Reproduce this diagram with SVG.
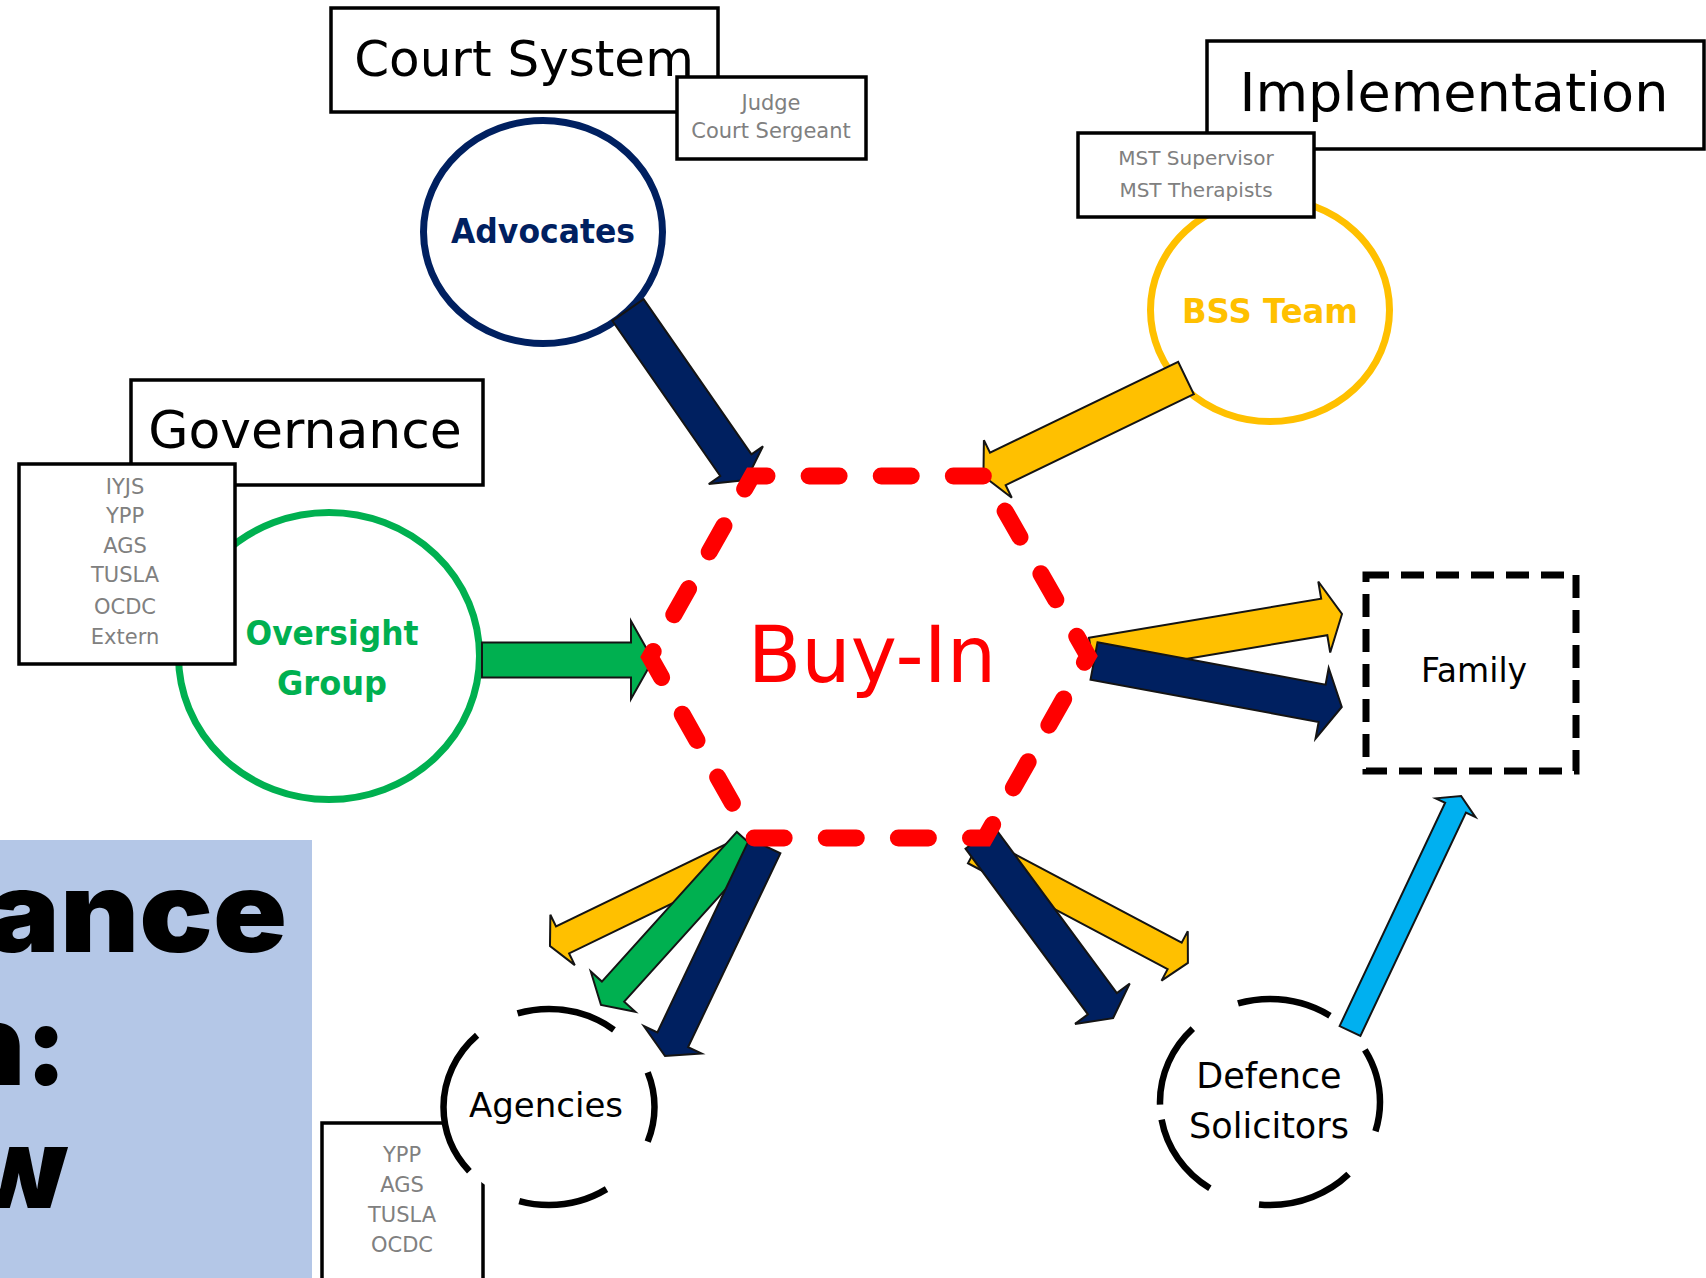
<svg xmlns="http://www.w3.org/2000/svg" width="1706" height="1278" viewBox="0 0 1706 1278">
<style>
.box{fill:#fff;stroke:#000;stroke-width:3.5}
.hdr{font-family:"DejaVu Sans","Liberation Sans",sans-serif;fill:#000;text-anchor:middle}
.sm{font-family:"DejaVu Sans","Liberation Sans",sans-serif;font-size:21px;fill:#808080;text-anchor:middle}
.ring{fill:#fff;stroke-width:7}
.dring{fill:#fff;stroke:#000;stroke-width:6.5}
.nm{font-family:"DejaVu Sans","Liberation Sans",sans-serif;text-anchor:middle}
.big{font-family:Inter,Lato,Roboto,"Liberation Sans",sans-serif;font-weight:900;font-size:112px;fill:#000;text-anchor:end}
.arr{stroke:#141414;stroke-width:2;stroke-linejoin:miter}
.navy{fill:#002060}.yel{fill:#FFC000}.grn{fill:#00B050}.sky{fill:#00B0F0}
</style>
<rect width="1706" height="1278" fill="#fff"/>

<g id="title-panel">
<rect x="0" y="840" width="312" height="438" fill="#B4C7E7"/>
<text class="big" x="287" y="952" textLength="300" lengthAdjust="spacingAndGlyphs">ance</text>
<text class="big" x="67" y="1085">n:</text>
<text class="big" x="68" y="1208">w</text>
</g>

<g id="court-system">
<rect class="box" x="331" y="8" width="387" height="104"/>
<text class="hdr" x="524" y="76" font-size="50">Court System</text>
</g>
<g id="court-roles">
<rect class="box" x="677" y="77" width="189" height="82"/>
<text class="sm" x="771" y="110">Judge</text>
<text class="sm" x="771" y="138">Court Sergeant</text>
</g>
<g id="advocates">
<ellipse class="ring" cx="543" cy="232" rx="119.5" ry="111.5" stroke="#002060"/>
<text class="nm" x="543" y="243" font-size="34" font-weight="bold" fill="#002060" textLength="184" lengthAdjust="spacingAndGlyphs">Advocates</text>
</g>

<g id="implementation">
<rect class="box" x="1207" y="41" width="497" height="108"/>
<text class="hdr" x="1454" y="111" font-size="54">Implementation</text>
</g>
<g id="bss-team">
<ellipse class="ring" cx="1270" cy="310" rx="119.5" ry="111.5" stroke="#FFC000"/>
<text class="nm" x="1270" y="323" font-size="34" font-weight="bold" fill="#FFC000" textLength="176" lengthAdjust="spacingAndGlyphs">BSS Team</text>
</g>
<g id="implementation-roles">
<rect class="box" x="1078" y="133" width="236" height="84"/>
<text class="sm" x="1196" y="165" style="font-size:20px">MST Supervisor</text>
<text class="sm" x="1196" y="197" style="font-size:20px">MST Therapists</text>
</g>

<g id="oversight-group">
<ellipse class="ring" cx="329" cy="656" rx="150.5" ry="143.5" stroke="#00B050"/>
<text class="nm" x="332" y="645" font-size="34" font-weight="bold" fill="#00B050" textLength="173" lengthAdjust="spacingAndGlyphs">Oversight</text>
<text class="nm" x="332" y="695" font-size="34" font-weight="bold" fill="#00B050" textLength="110" lengthAdjust="spacingAndGlyphs">Group</text>
</g>
<g id="governance">
<rect class="box" x="131" y="380" width="352" height="105"/>
<text class="hdr" x="305" y="448" font-size="52">Governance</text>
</g>
<g id="governance-roles">
<rect class="box" x="19" y="464" width="216" height="200"/>
<text class="sm" x="125" y="494">IYJS</text>
<text class="sm" x="125" y="523">YPP</text>
<text class="sm" x="125" y="553">AGS</text>
<text class="sm" x="125" y="582">TUSLA</text>
<text class="sm" x="125" y="614">OCDC</text>
<text class="sm" x="125" y="644">Extern</text>
</g>

<g id="agencies-roles">
<rect class="box" x="322" y="1123" width="161" height="170"/>
<text class="sm" x="402" y="1162">YPP</text>
<text class="sm" x="402" y="1192">AGS</text>
<text class="sm" x="402" y="1222">TUSLA</text>
<text class="sm" x="402" y="1252">OCDC</text>
</g>
<g id="agencies">
<path class="dring" pathLength="360" stroke-dasharray="20 36 51 33 86 26 57 31 20 0" d="M654.5,1107 A105.5,98 0 1 1 443.5,1107 A105.5,98 0 1 1 654.5,1107 Z"/>
<text class="nm" x="546" y="1117" font-size="34">Agencies</text>
</g>

<g id="defence-solicitors">
<path class="dring" pathLength="360" stroke-dasharray="16 27.5 52.5 28 46.5 8 46 28 51.4 26.5 29.6 0" d="M1380,1102 A110,103 0 1 1 1160,1102 A110,103 0 1 1 1380,1102 Z"/>
<text class="nm" x="1269" y="1088" font-size="35">Defence</text>
<text class="nm" x="1269" y="1138" font-size="35">Solicitors</text>
</g>

<g id="family">
<rect x="1366" y="575" width="210" height="196" fill="#fff" stroke="#000" stroke-width="7" stroke-dasharray="23 12"/>
<text class="nm" x="1474" y="682" font-size="33">Family</text>
</g>

<g id="connectors">
<polygon class="arr navy" points="0,-19 189,-19 189,-33 207,0 189,33 189,19 0,19" transform="translate(628 310) rotate(55.2)"/>
<polygon class="arr yel" points="0,-18 209,-18 209,-32 225,0 209,32 209,18 0,18" transform="translate(1186 378) rotate(154.2)"/>
<polygon class="arr grn" points="482,642.5 631,642.5 631,621 653,660 631,699 631,677.5 482,677.5"/>
<polygon class="arr yel" points="0,-18.5 235.5,-18.5 235.5,-36 253.5,0 235.5,36 235.5,18.5 0,18.5" transform="translate(1092 656) rotate(-9.54)"/>
<polygon class="arr navy" points="0,-19 232,-19 232,-36 252,0 232,36 232,19 0,19" transform="translate(1094 661) rotate(10.51)"/>
<polygon class="arr yel" points="0,-15 226,-15 226,-28 241,0 226,28 226,15 0,15" transform="translate(975 850) rotate(27.94)"/>
<polygon class="arr navy" points="0,-18 206,-18 206,-34 224,0 206,34 206,18 0,18" transform="translate(980 838) rotate(53.55)"/>
<polygon class="arr yel" points="0,-15 201.6,-15 201.6,-28 215.6,0 201.6,28 201.6,15 0,15" transform="translate(744 852) rotate(154.15)"/>
<polygon class="arr grn" points="0,-15 201.5,-15 201.5,-30 219.5,0 201.5,30 201.5,15 0,15" transform="translate(748 842) rotate(132.05)"/>
<polygon class="arr navy" points="0,-17 214.6,-17 214.6,-32 232.6,0 214.6,32 214.6,17 0,17" transform="translate(765 846) rotate(115.46)"/>
<polygon class="arr sky" points="0,-11.5 247,-11.5 247,-22 260,0 247,22 247,11.5 0,11.5" transform="translate(1350 1031) rotate(-64.7)"/>
</g>

<g id="buy-in">
<polygon points="752,476 985,476 1088,656 985,838 752,838 650,657" fill="none" stroke="#FF0000" stroke-width="17" stroke-linecap="round" pathLength="1800" stroke-dasharray="41.6 58.4" stroke-dashoffset="20.8"/>
<text class="nm" x="872" y="682" font-size="78" fill="#FF0000">Buy-In</text>
</g>
</svg>
